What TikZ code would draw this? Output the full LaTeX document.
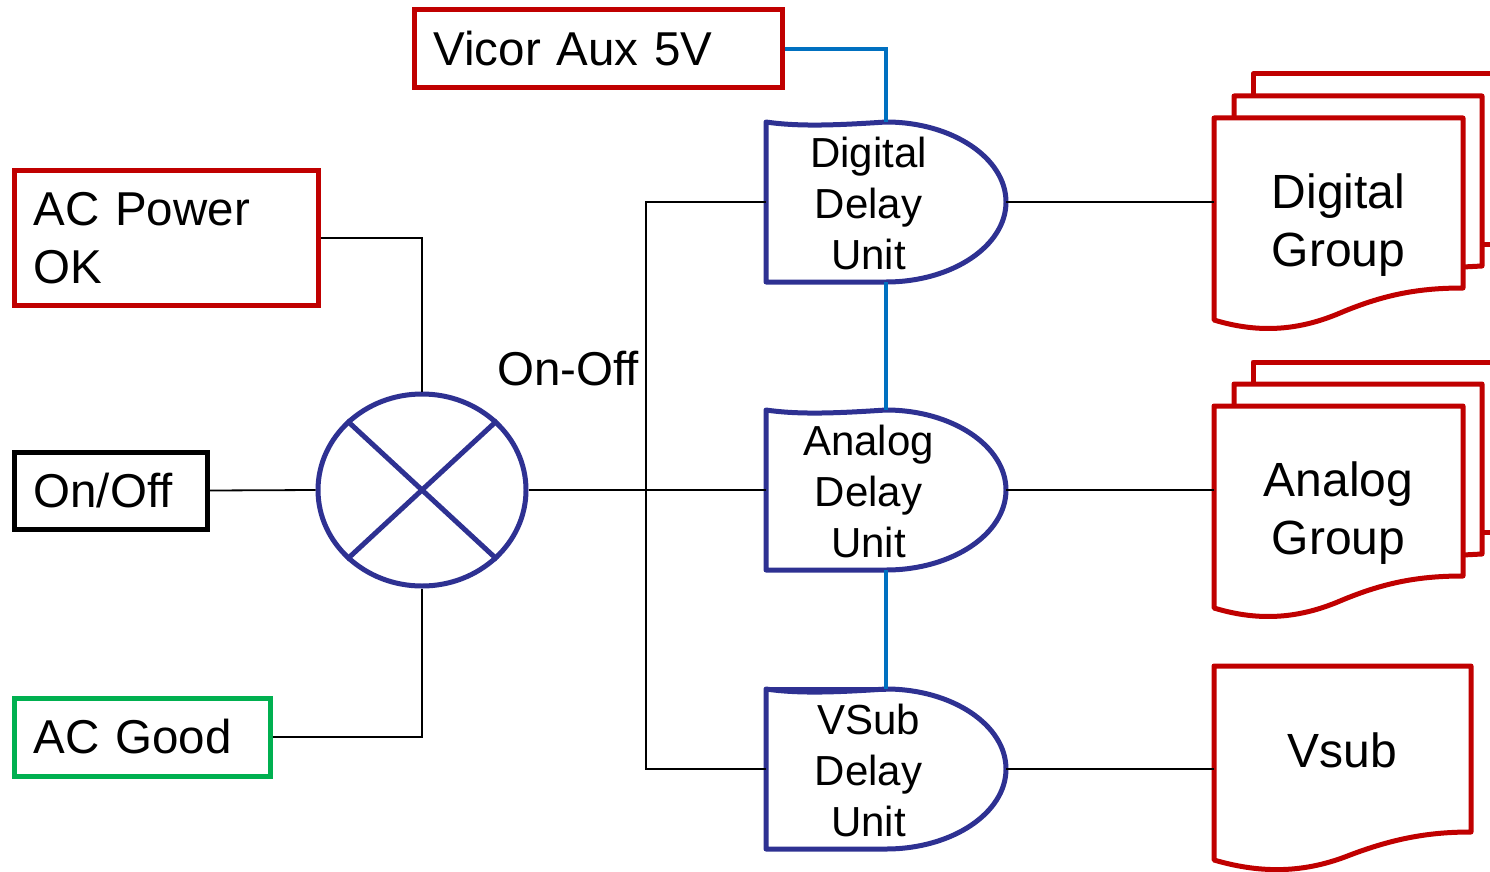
\documentclass[tikz,border=0pt]{standalone}
\usepackage{fontspec}
\setmainfont{Liberation Sans}
\usetikzlibrary{shapes.geometric}

\definecolor{boxred}{HTML}{C00000}
\definecolor{boxgreen}{HTML}{00B050}
\definecolor{gatenavy}{HTML}{2E3192}
\definecolor{railblue}{HTML}{0070C0}

\tikzset{
  inbox/.style={draw, line width=5pt, inner xsep=19.5pt, inner ysep=0pt, align=left, font=\fontsize{47.5}{58}\selectfont},
  gatebody/.style={inner sep=0pt, minimum width=240pt, minimum height=160pt},
  gateline/.style={draw=gatenavy, line width=5pt, line join=round, fill=white},
  gatetext/.style={align=center, font=\fontsize{42}{51}\selectfont},
  sheet/.style={draw=boxred, line width=5pt, line join=round},
  signal/.style={draw=black, line width=1.8pt},
  rail/.style={draw=railblue, line width=4pt},
}

\begin{document}
\begin{tikzpicture}[x=1pt, y=-1pt]
  \useasboundingbox (0, 0) rectangle (1490, 872);

  \node [inbox, draw=boxred, text width=329pt, minimum height=78pt] (vicor) at (598, 49) {Vicor Aux 5V};
  \node [inbox, draw=boxred, text width=265pt, minimum height=135pt] (acpower) at (166, 238) {AC Power\\OK};
  \node [inbox, draw=black, text width=154pt, minimum height=77pt] (onoff) at (110.5, 490.5) {On/Off};
  \node [inbox, draw=boxgreen, text width=217pt, minimum height=78pt] (acgood) at (142, 737) {AC Good};

  \node [ellipse, draw=gatenavy, line width=5pt, inner sep=0pt, minimum width=208pt, minimum height=192pt] (mix) at (422, 490) {};
  \draw [gatenavy, line width=5pt] (mix.north west) -- (mix.south east);
  \draw [gatenavy, line width=5pt] (mix.north east) -- (mix.south west);
  \node [font=\fontsize{47.5}{58}\selectfont] (onofflabel) at (568, 369) {On-Off};
  \coordinate (branch) at (646, 490);

  \node [gatebody] (digitaldelay) at (886, 202) {};
  \node [gatebody] (analogdelay) at (886, 490) {};
  \node [gatebody] (vsubdelay) at (886, 769) {};

  \draw [gateline] (766, 122) .. controls (800, 127) and (840, 125) .. (886, 122)
    .. controls (952, 122) and (1006, 158) .. (1006, 202)
    .. controls (1006, 246) and (952, 282) .. (886, 282) -- (766, 282) -- cycle;
  \draw [gateline] (766, 410) .. controls (800, 415) and (840, 413) .. (886, 410)
    .. controls (952, 410) and (1006, 446) .. (1006, 490)
    .. controls (1006, 534) and (952, 570) .. (886, 570) -- (766, 570) -- cycle;
  \draw [gateline] (766, 689) .. controls (800, 694) and (840, 692) .. (886, 689)
    .. controls (952, 689) and (1006, 725) .. (1006, 769)
    .. controls (1006, 813) and (952, 849) .. (886, 849) -- (766, 849) -- cycle;
  \draw [gatenavy, line width=5pt] (766, 689) -- (886, 689);

  \node [gatetext] (digitaltext) at (868.5, 203.2) {Digital\\Delay\\Unit};
  \node [gatetext] (analogtext) at (868.5, 491.2) {Analog\\Delay\\Unit};
  \node [gatetext] (vsubtext) at (868.5, 770.2) {VSub\\Delay\\Unit};

  \draw [sheet] (1253, 96) -- (1253, 74) -- (1490, 74);
  \draw [sheet] (1482, 244) -- (1490, 244);
  \draw [sheet] (1234, 118) -- (1234, 96) -- (1482, 96) -- (1482, 266) -- (1463, 267);
  \draw [sheet, fill=white] (1214, 118) -- (1463, 118) -- (1463, 288)
    .. controls (1420, 288) and (1385, 294) .. (1340, 313)
    .. controls (1300, 330) and (1260, 334) .. (1214, 320) -- cycle;

  \draw [sheet] (1253, 384) -- (1253, 362) -- (1490, 362);
  \draw [sheet] (1482, 532) -- (1490, 532);
  \draw [sheet] (1234, 406) -- (1234, 384) -- (1482, 384) -- (1482, 554) -- (1463, 555);
  \draw [sheet, fill=white] (1214, 406) -- (1463, 406) -- (1463, 576)
    .. controls (1420, 576) and (1385, 582) .. (1340, 601)
    .. controls (1300, 618) and (1260, 622) .. (1214, 608) -- cycle;

  \draw [sheet, fill=white] (1214, 666) -- (1471, 666) -- (1471, 832)
    .. controls (1430, 832) and (1395, 838) .. (1350, 855)
    .. controls (1305, 873) and (1262, 874) .. (1214, 860) -- cycle;

  \node [inner sep=0pt, minimum width=249pt, minimum height=204pt, align=center, font=\fontsize{48}{58}\selectfont] (digitalgroup) at (1338.5, 225) {Digital\\Group};
  \node [inner sep=0pt, minimum width=249pt, minimum height=204pt, align=center, font=\fontsize{48}{58}\selectfont] (analoggroup) at (1338.5, 513) {Analog\\Group};
  \node [inner sep=0pt, minimum width=257pt, minimum height=170pt, align=center, font=\fontsize{48}{58}\selectfont] (vsubgroup) at (1342.5, 750) {Vsub};

  \draw [signal] (acpower.east) -| (mix.north);
  \draw [signal] (onoff.east) -- (mix.west);
  \draw [signal] (acgood.east) -| (mix.south);
  \draw [signal] (mix.east) -- (analogdelay.west);
  \draw [signal] (branch) |- (digitaldelay.west);
  \draw [signal] (branch) |- (vsubdelay.west);
  \draw [signal] (digitaldelay.east) -- (digitaldelay.east -| digitalgroup.west);
  \draw [signal] (analogdelay.east) -- (analogdelay.east -| analoggroup.west);
  \draw [signal] (vsubdelay.east) -- (vsubdelay.east -| vsubgroup.west);

  \draw [rail] (vicor.east) -| (digitaldelay.north);
  \draw [rail] (digitaldelay.south) -- (analogdelay.north);
  \draw [rail] (analogdelay.south) -- (vsubdelay.north);
\end{tikzpicture}
\end{document}
